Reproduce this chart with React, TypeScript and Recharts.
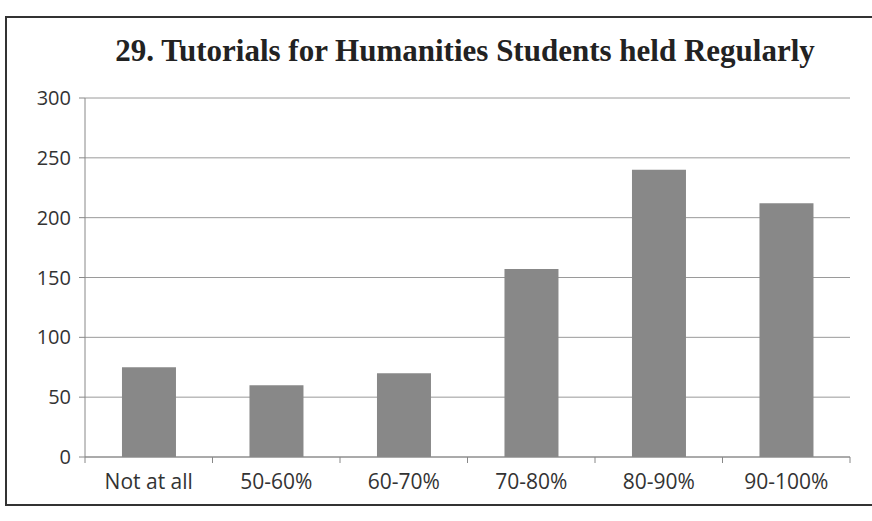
import { BarChart, Bar, XAxis, YAxis, CartesianGrid } from "recharts";

const categories = ["Not at all", "50-60%", "60-70%", "70-80%", "80-90%", "90-100%"];
const counts = [75, 60, 70, 157, 240, 212];
const yTicks = [0, 50, 100, 150, 200, 250, 300];

const data = categories.map((name, i) => ({ name, value: counts[i] }));

const W = 872;
const H = 521;
const margin = { top: 98, right: 22, bottom: 24, left: 35 };
const band = (W - margin.left - margin.right - 50) / categories.length;

// Excel-style x tick: label under centre, tick marks at the category edges
const XTick = (props: any) => {
  const { x, y, payload, index } = props;
  return (
    <g>
      <line x1={x - band / 2} y1={y - 8} x2={x - band / 2} y2={y - 2} stroke="#888" />
      {index === categories.length - 1 && (
        <line x1={x + band / 2} y1={y - 8} x2={x + band / 2} y2={y - 2} stroke="#888" />
      )}
      <text x={x} y={y + 24} textAnchor="middle" fill="#333" fontSize={21} fontFamily="'Open Sans', sans-serif">
        {payload.value}
      </text>
    </g>
  );
};

const App = () => {
  return (
    <div style={{ position: "absolute", left: 0, top: 0, width: W, height: H, background: "#fff" }}>
      {/* scanned frame */}
      <div
        style={{
          position: "absolute",
          left: 5,
          top: 16,
          width: 880,
          height: 490,
          border: "2px solid #333",
          boxSizing: "border-box",
        }}
      />
      <div
        style={{
          position: "absolute",
          left: 60,
          top: 33,
          width: 810,
          textAlign: "center",
          fontFamily: "'Liberation Serif', 'Times New Roman', serif",
          fontWeight: "bold",
          fontSize: 31,
          color: "#222",
        }}
      >
        29. Tutorials for Humanities Students held Regularly
      </div>
      <div style={{ position: "absolute", left: 0, top: 0 }}>
        <BarChart width={W} height={H} data={data} margin={margin} barCategoryGap="29%">
          <CartesianGrid vertical={false} stroke="#9a9a9a" />
          <XAxis
            dataKey="name"
            axisLine={{ stroke: "#888" }}
            tickLine={false}
            tick={<XTick />}
            height={40}
            interval={0}
          />
          <YAxis
            domain={[0, 300]}
            ticks={yTicks}
            width={50}
            axisLine={{ stroke: "#888" }}
            tickLine={{ stroke: "#888" }}
            tickSize={6}
            tickMargin={8}
            tick={{ fill: "#333", fontSize: 20, fontFamily: "'Open Sans', sans-serif" }}
          />
          <Bar dataKey="value" fill="#888888" isAnimationActive={false} />
        </BarChart>
      </div>
    </div>
  );
};

export default App;
